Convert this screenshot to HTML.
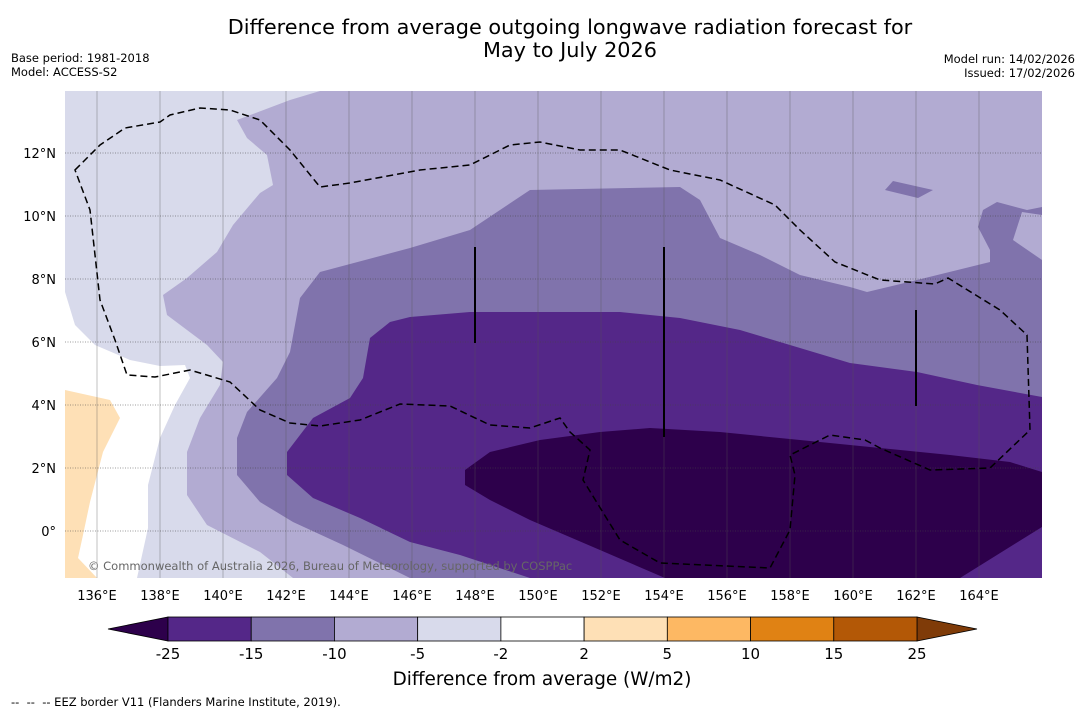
<!DOCTYPE html>
<html><head><meta charset="utf-8"><style>
body{margin:0;background:#fff;font-family:"DejaVu Sans","Liberation Sans",sans-serif;}
svg{display:block}
</style></head><body>
<svg width="1085" height="713" xmlns="http://www.w3.org/2000/svg">
<text x="570" y="34" font-size="20.8" text-anchor="middle">Difference from average outgoing longwave radiation forecast for</text>
<text x="570" y="57" font-size="20.8" text-anchor="middle">May to July 2026</text>
<text x="11" y="62" font-size="11.5">Base period: 1981-2018</text>
<text x="11" y="76" font-size="11.5">Model: ACCESS-S2</text>
<text x="1075" y="63" font-size="11.5" text-anchor="end">Model run: 14/02/2026</text>
<text x="1075" y="77" font-size="11.5" text-anchor="end">Issued: 17/02/2026</text>
<defs><clipPath id="mc"><rect x="65" y="91" width="977" height="487"/></clipPath></defs>
<g clip-path="url(#mc)">
<rect x="65" y="91" width="977" height="487" fill="#d8daeb"/>
<path fill="#ffffff" d="M65,292 L75,325 L95,345 L130,360 L160,366 L185,365 L190,378 L175,405 L160,438 L148,485 L148,528 L137,578 L65,578 Z"/>
<path fill="#fee0b6" d="M65,390 L110,400 L120,418 L103,452 L90,502 L83,535 L78,558 L97,578 L65,578 Z"/>
<path fill="#b2abd2" d="M320,91 L1042,91 L1042,578 L293,578 L260,552 L207,525 L187,495 L187,452 L200,418 L220,385 L223,362 L207,345 L167,315 L163,295 L187,278 L217,252 L233,225 L260,193 L273,185 L267,155 L247,138 L237,120 L290,100 Z"/>
<path fill="#8073ac" d="M410,248 L470,230 L500,210 L530,190 L680,187 L700,200 L720,238 L760,255 L800,275 L850,287 L867,292 L917,280 L990,262 L990,250 L978,227 L983,210 L997,202 L1027,210 L1042,207 L1042,578 L410,578 L343,545 L293,522 L260,502 L237,475 L237,438 L247,412 L277,378 L290,352 L300,298 L320,272 Z"/>
<path fill="#b2abd2" d="M1022,212 L1042,215 L1042,260 L1013,240 Z"/>
<path fill="#8073ac" d="M885,190 L893,181 L933,190 L918,198 Z"/>
<path fill="#542788" d="M410,317 L470,312 L620,312 L680,318 L740,330 L790,345 L850,363 L917,372 L977,385 L1042,397 L1042,578 L530,578 L460,555 L410,542 L360,518 L313,498 L287,475 L287,452 L313,418 L350,398 L363,378 L370,338 L390,322 Z"/>
<path fill="#2d004b" d="M465,470 L490,452 L540,440 L600,432 L650,428 L720,432 L800,440 L850,445 L950,455 L1010,462 L1042,472 L1042,527 L960,578 L665,578 L600,550 L530,520 L490,500 L465,485 Z"/>
<g id="grid"></g>
<path fill="none" stroke="#000" stroke-width="1.5" stroke-dasharray="7,4" d="M75,170 L100,145 L125,128 L160,122 L170,115 L200,108 L230,110 L260,120 L290,150 L320,187 L350,183 L420,170 L470,165 L490,155 L510,145 L540,142 L580,150 L620,150 L670,170 L720,180 L775,205 L800,230 L835,262 L880,280 L935,284 L948,278 L1000,310 L1027,335 L1030,430 L990,468 L930,470 L880,448 L865,440 L830,435 L790,455 L795,475 L790,530 L770,568 L660,563 L620,540 L583,480 L590,450 L570,432 L560,418 L530,428 L490,425 L450,406 L400,404 L360,420 L320,426 L290,423 L260,410 L230,382 L190,370 L155,377 L127,375 L115,340 L100,300 L90,210 Z"/>
<line x1="475" y1="247" x2="475" y2="343" stroke="#000" stroke-width="2"/>
<line x1="664" y1="247" x2="664" y2="437" stroke="#000" stroke-width="2"/>
<line x1="916" y1="310" x2="916" y2="406" stroke="#000" stroke-width="2"/>
<text x="88" y="570" font-size="11.5" fill="#666">© Commonwealth of Australia 2026, Bureau of Meteorology, supported by COSPPac</text>
</g>
<g id="axes"></g>
<g id="cbar"></g>
<text x="542" y="685" font-size="18.4" text-anchor="middle">Difference from average (W/m2)</text>
<text x="11" y="706" font-size="11.5" xml:space="preserve" style="white-space:pre">--  --  -- EEZ border V11 (Flanders Marine Institute, 2019).</text>
</svg>
<script>
const lonTicks=[136,138,140,142,144,146,148,150,152,154,156,158,160,162,164];
const latTicks=[0,2,4,6,8,10,12];
const cbarLevels=[-25,-15,-10,-5,-2,2,5,10,15,25];
const cbarColors=["#542788","#8073ac","#b2abd2","#d8daeb","#ffffff","#fee0b6","#fdb863","#e08214","#b35806"];
const cbarUnder="#2d004b", cbarOver="#7f3b08";
const NS="http://www.w3.org/2000/svg";
const xLon=l=>97+(l-136)*31.5, yLat=l=>531-l*31.5;
function mk(tag,attrs,parent){const e=document.createElementNS(NS,tag);for(const k in attrs)e.setAttribute(k,attrs[k]);parent.appendChild(e);return e;}
const grid=document.getElementById('grid'), axes=document.getElementById('axes'), cb=document.getElementById('cbar');
lonTicks.forEach(l=>{
  const ln=mk('line',{x1:xLon(l),x2:xLon(l),y1:91,y2:578,stroke:'#555','stroke-width':0.6,'stroke-opacity':0.6},grid);
  
  
  const t=mk('text',{x:xLon(l),y:600,'font-size':13,'text-anchor':'middle'},axes);
  t.textContent=l+'°E';
  
  
});
latTicks.forEach(l=>{
  const ln=mk('line',{x1:65,x2:1042,y1:yLat(l),y2:yLat(l),stroke:'#444','stroke-width':0.8,'stroke-dasharray':'1,1.5','stroke-opacity':0.7},grid);
  
  
  const t=mk('text',{x:56,y:yLat(l)+5,'font-size':13,'text-anchor':'end'},axes);
  t.textContent=l===0?'0°':l+'°N';
  
  
});
const cx0=168,cx1=917,cy=617,ch=24,n=cbarColors.length,w=(cx1-cx0)/n;
const under=mk('polygon',{points:`${cx0},${cy} ${cx0},${cy+ch} 108,${cy+ch/2}`,fill:cbarUnder,stroke:'#000','stroke-width':0.8},cb);


const over=mk('polygon',{points:`${cx1},${cy} ${cx1},${cy+ch} 977,${cy+ch/2}`,fill:cbarOver,stroke:'#000','stroke-width':0.8},cb);


cbarColors.forEach((c,i)=>{
  const r=mk('rect',{x:cx0+i*w,y:cy,width:w,height:ch,fill:c,stroke:'#000','stroke-width':0.8},cb);
  
  
});
cbarLevels.forEach((v,i)=>{
  const t=mk('text',{x:cx0+i*w,y:659,'font-size':15,'text-anchor':'middle'},cb);
  t.textContent=v;
  
  
});
</script>
</body></html>
